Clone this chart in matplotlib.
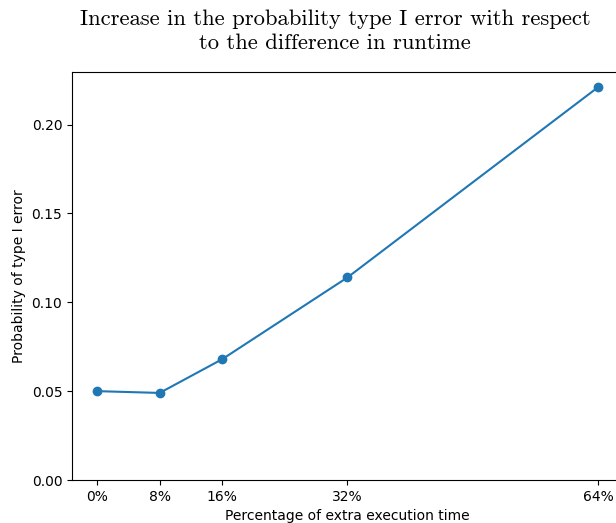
import matplotlib
matplotlib.use("Agg")
import matplotlib.pyplot as plt

x_pct = [0, 8, 16, 32, 64]
x_labels = ["0%", "8%", "16%", "32%", "64%"]
prob = [0.050, 0.049, 0.068, 0.114, 0.221]

fig = plt.figure(figsize=(6.16, 5.23), dpi=100)
ax = fig.add_axes([72/616, 43/523, 551/616, 408/523])
ax.plot(x_pct, prob, marker="o", color="#1f77b4", markersize=6, linewidth=1.5)
ax.set_xticks(x_pct)
ax.set_xticklabels(x_labels)
ax.set_ylim(bottom=0)
ax.set_yticks([0.00, 0.05, 0.10, 0.15, 0.20])
ax.set_yticklabels(["0.00", "0.05", "0.10", "0.15", "0.20"])
ax.set_xlabel("Percentage of extra execution time")
ax.set_ylabel("Probability of type I error")
fig.text(335/616, 1 - 31/523, "Increase in the probability type I error with respect\nto the difference in runtime",
         ha="center", va="center", fontsize=16.3, family="cmr10", linespacing=1.28)
fig.savefig("out.png", dpi=100)
